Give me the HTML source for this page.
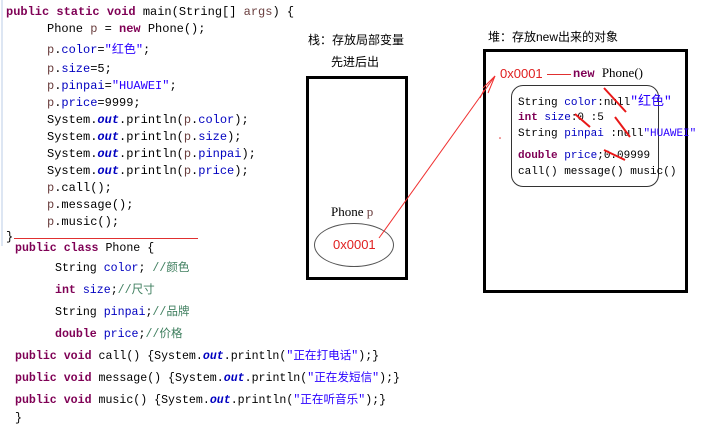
<!DOCTYPE html>
<html><head><meta charset="utf-8"><style>
body{margin:0;width:723px;height:437px;background:#fff;position:relative;overflow:hidden;font-family:"Liberation Mono","Noto Sans CJK SC",monospace;font-size:12px;color:#000}
.t{position:absolute;white-space:pre;line-height:14px}
.k{color:#7f0055;font-weight:bold}
.f{color:#0000c0}
.s{color:#2a00ff}
.c{color:#3f7f5f}
.o{color:#0000c0;font-weight:bold;font-style:italic}
.v{color:#6a3e3e}
.r{color:#e02020}
.sans{font-family:"Liberation Sans","Noto Sans CJK SC",sans-serif}
.box{position:absolute;border:3px solid #000;box-sizing:border-box}
.b2{font-size:11.6px}
.h{font-size:11px}
</style></head><body>
<div style="position:absolute;left:1px;top:0;width:2px;height:246px;background:#dde6f3"></div>
<div class="t" style="left:6px;top:5px"><span class="k">public static void</span> main(String[] <span class="v">args</span>) {</div>
<div class="t" style="left:47px;top:22px">Phone <span class="v">p</span> = <span class="k">new</span> Phone();</div>
<div class="t" style="left:47px;top:43px"><span class="v">p</span>.<span class="f">color</span>=<span class="s">"红色"</span>;</div>
<div class="t" style="left:47px;top:62px"><span class="v">p</span>.<span class="f">size</span>=5;</div>
<div class="t" style="left:47px;top:79px"><span class="v">p</span>.<span class="f">pinpai</span>=<span class="s">"HUAWEI"</span>;</div>
<div class="t" style="left:47px;top:96px"><span class="v">p</span>.<span class="f">price</span>=9999;</div>
<div class="t" style="left:47px;top:113px">System.<span class="o">out</span>.println(<span class="v">p</span>.<span class="f">color</span>);</div>
<div class="t" style="left:47px;top:130px">System.<span class="o">out</span>.println(<span class="v">p</span>.<span class="f">size</span>);</div>
<div class="t" style="left:47px;top:147px">System.<span class="o">out</span>.println(<span class="v">p</span>.<span class="f">pinpai</span>);</div>
<div class="t" style="left:47px;top:164px">System.<span class="o">out</span>.println(<span class="v">p</span>.<span class="f">price</span>);</div>
<div class="t" style="left:47px;top:181px"><span class="v">p</span>.call();</div>
<div class="t" style="left:47px;top:198px"><span class="v">p</span>.message();</div>
<div class="t" style="left:47px;top:215px"><span class="v">p</span>.music();</div>
<div class="t" style="left:6px;top:230px">}</div>
<div style="position:absolute;left:14px;top:238px;width:184px;height:1px;background:#e03030"></div>
<div class="t b2" style="left:15px;top:242px"><span class="k">public class</span> Phone {</div>
<div class="t b2" style="left:55px;top:262px">String <span class="f">color</span>; <span class="c">//颜色</span></div>
<div class="t b2" style="left:55px;top:284px"><span class="k">int</span> <span class="f">size</span>;<span class="c">//尺寸</span></div>
<div class="t b2" style="left:55px;top:306px">String <span class="f">pinpai</span>;<span class="c">//品牌</span></div>
<div class="t b2" style="left:55px;top:328px"><span class="k">double</span> <span class="f">price</span>;<span class="c">//价格</span></div>
<div class="t b2" style="left:15px;top:350px"><span class="k">public void</span> call() {System.<span class="o">out</span>.println(<span class="s">"正在打电话"</span>);}</div>
<div class="t b2" style="left:15px;top:372px"><span class="k">public void</span> message() {System.<span class="o">out</span>.println(<span class="s">"正在发短信"</span>);}</div>
<div class="t b2" style="left:15px;top:394px"><span class="k">public void</span> music() {System.<span class="o">out</span>.println(<span class="s">"正在听音乐"</span>);}</div>
<div class="t b2" style="left:15px;top:412px">}</div>

<div class="t sans" style="left:308px;top:33px;font-size:12px">栈：存放局部变量</div>
<div class="t sans" style="left:331px;top:55px;font-size:12px">先进后出</div>
<div class="box" style="left:306px;top:76px;width:102px;height:204px"></div>
<div class="t" style="left:331px;top:205px;font-family:'Liberation Serif',serif;font-size:13px">Phone <span class="v">p</span></div>
<div style="position:absolute;left:314px;top:223px;width:80px;height:44px;border:1px solid #555;border-radius:50%;box-sizing:border-box"></div>
<div class="t sans r" style="left:333px;top:238px;font-size:13px">0x0001</div>

<div class="t sans" style="left:488px;top:30px;font-size:12px">堆：存放new出来的对象</div>
<div class="box" style="left:483px;top:49px;width:205px;height:244px"></div>
<div class="t sans r" style="left:500px;top:67px;font-size:13px">0x0001</div>
<div style="position:absolute;left:547px;top:74px;width:24px;height:1px;background:#e03030"></div>
<div class="t" style="left:573px;top:66px"><span class="k">new</span> <span style="font-family:'Liberation Serif',serif;font-size:13px">Phone()</span></div>
<div style="position:absolute;left:511px;top:85px;width:148px;height:102px;border:1px solid #333;border-radius:12px;box-sizing:border-box"></div>
<div class="t h" style="left:518px;top:95px">String <span class="f">color</span>:null<span class="s" style="font-size:13px">"红色"</span></div>
<div class="t h" style="left:518px;top:111px"><span class="k">int</span> <span class="f">size</span>:0 :5</div>
<div class="t h" style="left:518px;top:127px">String <span class="f">pinpai</span> :null<span class="s">"HUAWEI"</span></div>
<div class="t h" style="left:518px;top:149px"><span class="k">double</span> <span class="f">price</span>;0.09999</div>
<div class="t h" style="left:518px;top:165px">call() message() music()</div>

<svg width="723" height="437" style="position:absolute;left:0;top:0">
<g stroke="#f03030" fill="none" stroke-width="1">
<line x1="379" y1="238" x2="495" y2="76"/>
<polyline points="483,88 495,76 488,93"/>
<line x1="484" y1="90" x2="480" y2="98"/>
</g>
<g stroke="#e81818" stroke-width="2">
<line x1="604" y1="88" x2="626" y2="112"/>
<line x1="575" y1="114" x2="590" y2="127"/>
<line x1="615" y1="117" x2="630" y2="137"/>
<line x1="604" y1="150" x2="625" y2="160"/>
</g>
<circle cx="500" cy="138" r="0.8" fill="#e03030"/>
</svg>
</body></html>
